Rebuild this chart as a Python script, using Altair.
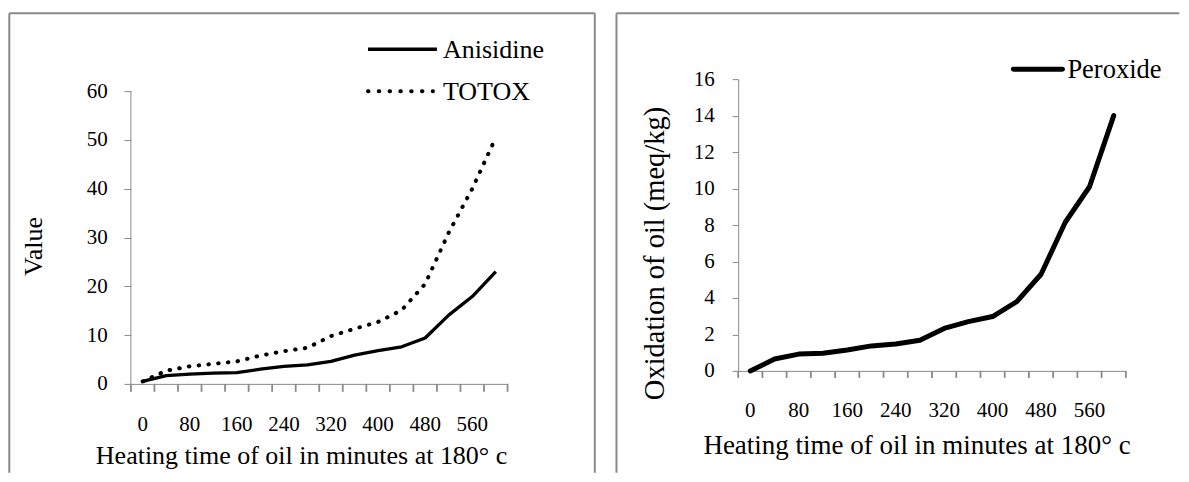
import altair as alt
import pandas as pd

# ---------------- data ----------------
time_min = [0, 40, 80, 120, 160, 200, 240, 280, 320, 360, 400, 440, 480, 520, 560, 600]
anisidine = [0.5, 1.7, 2.0, 2.2, 2.3, 3.0, 3.6, 3.9, 4.6, 5.9, 6.8, 7.6, 9.4, 14.1, 17.9, 23.0]
totox = [0.5, 2.7, 3.6, 4.1, 4.6, 5.8, 6.7, 7.4, 9.8, 11.3, 12.7, 15.1, 20.5, 31.0, 40.0, 50.5]
peroxide = [0.0, 0.65, 0.92, 0.97, 1.15, 1.37, 1.47, 1.68, 2.33, 2.7, 2.98, 3.8, 5.3, 8.15, 10.1, 14.0]

x_label_values = [0, 80, 160, 240, 320, 400, 480, 560]
left_y_ticks = [0, 10, 20, 30, 40, 50, 60]
right_y_ticks = [0, 2, 4, 6, 8, 10, 12, 14, 16]

x_title = "Heating time of oil in minutes at 180° c"
left_y_title = "Value"
right_y_title = "Oxidation of oil (meq/kg)"
left_series = ["Anisidine", "TOTOX"]
right_series = ["Peroxide"]

FONT = "Liberation Serif"
GRAY = "#8a8a8a"
TICK = "#8a8a8a"
INK = "#000000"

left_df = pd.DataFrame({"t": time_min, "Anisidine": anisidine, "TOTOX": totox})
right_df = pd.DataFrame({"t": time_min, "Peroxide": peroxide})
one = pd.DataFrame({"k": [0]})

label_expr = f"indexof({x_label_values}, datum.value) >= 0 ? datum.label : ''"

LW, LH = 377, 305          # left plot (top aligned with right plot)
L_TOP = 60 * LH / 293.0    # so that 60 sits 293 px above the x axis
RW, RH = 388, 292


def x_enc(title_x, title_y, title_size, label_pad, tick_size):
    return alt.X(
        "t:O",
        scale=alt.Scale(type="band", paddingInner=0, paddingOuter=0),
        axis=alt.Axis(
            title=x_title, labelExpr=label_expr, labelAngle=0,
            labelFont=FONT, labelFontSize=21, labelColor=INK, labelPadding=label_pad,
            labelOverlap=False, ticks=True, tickSize=tick_size, tickColor="transparent",
            domainColor=GRAY,
            titleFont=FONT, titleFontSize=title_size, titleFontWeight="normal",
            titleColor=INK, titleX=title_x, titleY=title_y, titleBaseline="middle",
            titleAlign="center", titleAngle=0, grid=False,
        ),
    )


def x_ticks(df, plot_w, plot_h, size):
    """Category-boundary tick marks (Excel style): band centre shifted half a band left."""
    half = plot_w / len(time_min) / 2.0
    inner = alt.Chart(df).mark_rule(color=TICK, strokeWidth=1.8, xOffset=-half).encode(
        x=alt.X("t:O"),
        y=alt.value(plot_h), y2=alt.value(plot_h + size))
    last = alt.Chart(one).mark_rule(color=TICK, strokeWidth=1.8).encode(
        x=alt.value(plot_w), y=alt.value(plot_h), y2=alt.value(plot_h + size))
    return [inner, last]


def frame(x_left, x_right, draw_right):
    layers = [
        alt.Chart(one).mark_rule(color=GRAY, strokeWidth=2).encode(
            x=alt.value(x_left), y=alt.value(-66), y2=alt.value(394)),
        alt.Chart(one).mark_rule(color=GRAY, strokeWidth=2).encode(
            x=alt.value(x_left), x2=alt.value(x_right), y=alt.value(-66)),
    ]
    if draw_right:
        layers.append(alt.Chart(one).mark_rule(color=GRAY, strokeWidth=2).encode(
            x=alt.value(x_right), y=alt.value(-66), y2=alt.value(394)))
    return layers


# ---------------- left panel ----------------
left_scale = alt.Scale(domain=[0, L_TOP], nice=False, zero=True)
left_axis = alt.Axis(
    title=left_y_title, values=left_y_ticks, domain=False, grid=False,
    ticks=True, tickSize=7, tickColor=GRAY, labelFont=FONT, labelFontSize=21, labelColor=INK,
    labelPadding=16.7, titleFont=FONT, titleFontSize=26, titleFontWeight="normal",
    titleColor=INK, titleX=-97.2, titleY=167, titleBaseline="middle",
    titleAlign="center", titleAngle=270,
)

l_anis = alt.Chart(left_df).mark_line(color=INK, strokeWidth=3.3, strokeJoin="round").encode(
    x=x_enc(170.3, 72, 26, 22, 8),
    y=alt.Y("Anisidine:Q", scale=left_scale, axis=left_axis))
l_totox = alt.Chart(left_df).mark_line(
    color=INK, strokeWidth=4, strokeCap="round", strokeDash=[0.5, 9.3]).encode(
    x=alt.X("t:O"), y=alt.Y("TOTOX:Q", scale=left_scale, axis=left_axis))
l_axisline = alt.Chart(one).mark_rule(color=GRAY, strokeWidth=1).encode(
    x=alt.value(0),
    y=alt.YDatum(0, scale=left_scale, axis=left_axis),
    y2=alt.Y2Datum(left_y_ticks[-1]))

l_leg = [
    alt.Chart(one).mark_rule(color=INK, strokeWidth=3.5).encode(
        x=alt.value(237.3), x2=alt.value(306.3), y=alt.value(-30)),
    alt.Chart(one).mark_text(align="left", baseline="middle", font=FONT, fontSize=26, color=INK).encode(
        x=alt.value(312.3), y=alt.value(-29.5), text=alt.value(left_series[0])),
    alt.Chart(one).mark_rule(color=INK, strokeWidth=4, strokeCap="round", strokeDash=[0.5, 10.3]).encode(
        x=alt.value(237.3), x2=alt.value(302.3), y=alt.value(12)),
    alt.Chart(one).mark_text(align="left", baseline="middle", font=FONT, fontSize=26, color=INK).encode(
        x=alt.value(312.3), y=alt.value(13), text=alt.value(left_series[1])),
]

left = alt.layer(
    *frame(-121.7, 464.3, True), l_anis, l_totox, l_axisline,
    *x_ticks(left_df, LW, LH, 8), *l_leg
).properties(width=LW, height=LH)

# ---------------- right panel ----------------
right_y = alt.Y(
    "Peroxide:Q",
    scale=alt.Scale(domain=[0, 16], nice=False, zero=True),
    axis=alt.Axis(
        title=right_y_title, values=right_y_ticks, domain=True, domainColor=GRAY, grid=False,
        ticks=True, tickSize=6, tickColor=GRAY, labelFont=FONT, labelFontSize=21, labelColor=INK,
        labelPadding=18, titleFont=FONT, titleFontSize=28.5, titleFontWeight="normal",
        titleColor=INK, titleX=-84, titleY=174, titleBaseline="middle",
        titleAlign="center", titleAngle=270,
    ),
)

r_line = alt.Chart(right_df).mark_line(color=INK, strokeWidth=5, strokeJoin="round", strokeCap="round").encode(
    x=x_enc(178.5, 75, 27, 21.5, 7), y=right_y)

r_leg = [
    alt.Chart(one).mark_rule(color=INK, strokeWidth=5, strokeCap="round").encode(
        x=alt.value(275.5), x2=alt.value(324.5), y=alt.value(-10)),
    alt.Chart(one).mark_text(align="left", baseline="middle", font=FONT, fontSize=26.5, color=INK).encode(
        x=alt.value(329.5), y=alt.value(-9), text=alt.value(right_series[0])),
]

right = alt.layer(
    *frame(-121.8, 441.5, False), r_line, *x_ticks(right_df, RW, RH, 7), *r_leg
).properties(width=RW, height=RH)

chart = alt.hconcat(left, right, spacing=230.8, bounds="flush").configure_view(
    stroke=None
).properties(
    padding={"left": 0, "top": 4, "right": 0, "bottom": 0}, background="white"
)

chart.save("out.html", embed_options={"renderer": "svg", "actions": False})
